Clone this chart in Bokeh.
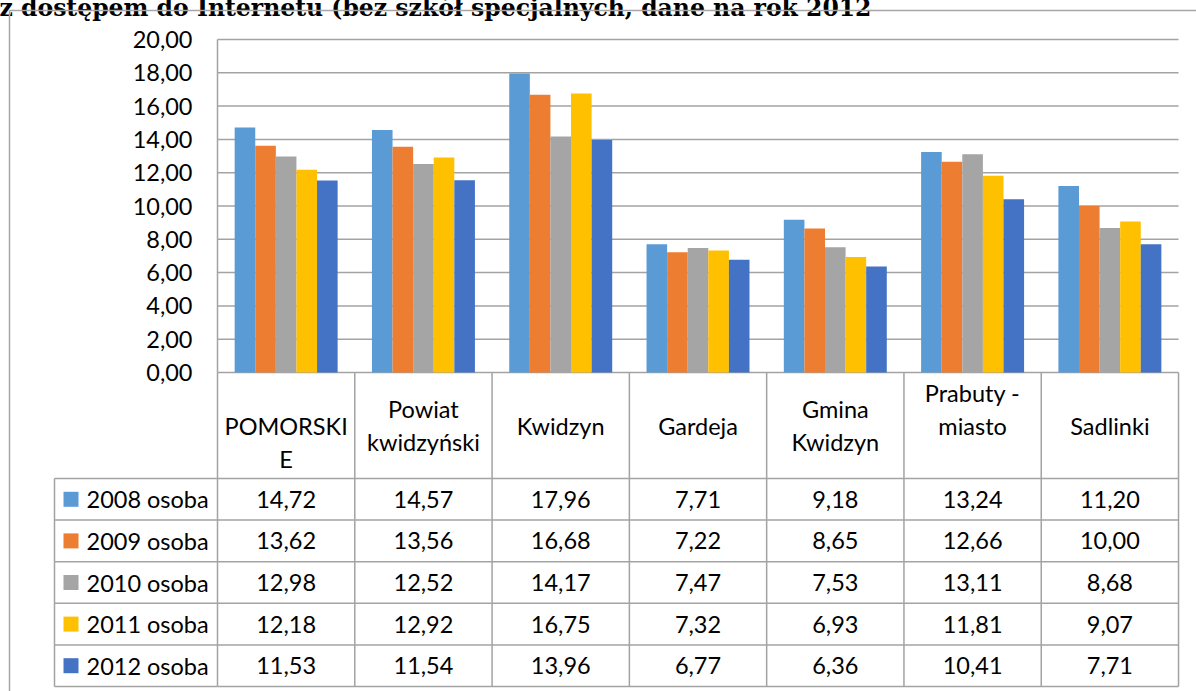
from bokeh.plotting import figure
from bokeh.models import Range1d, ColumnDataSource
from bokeh.transform import dodge
from bokeh.core.properties import value
from bokeh.embed import file_html
from bokeh.resources import INLINE

# ---------------- data ----------------
title_text = "z dostępem do Internetu (bez szkół specjalnych, dane na rok 2012"
categories = ["POMORSKIE", "Powiat kwidzyński", "Kwidzyn", "Gardeja",
              "Gmina Kwidzyn", "Prabuty - miasto", "Sadlinki"]
header_lines = [["POMORSKI", "E"], ["Powiat", "kwidzyński"], ["Kwidzyn"], ["Gardeja"],
                ["Gmina", "Kwidzyn"], ["Prabuty -", "miasto"], ["Sadlinki"]]
series_names = ["2008 osoba", "2009 osoba", "2010 osoba", "2011 osoba", "2012 osoba"]
v2008 = [14.72, 14.57, 17.96, 7.71, 9.18, 13.24, 11.20]
v2009 = [13.62, 13.56, 16.68, 7.22, 8.65, 12.66, 10.00]
v2010 = [12.98, 12.52, 14.17, 7.47, 7.53, 13.11, 8.68]
v2011 = [12.18, 12.92, 16.75, 7.32, 6.93, 11.81, 9.07]
v2012 = [11.53, 11.54, 13.96, 6.77, 6.36, 10.41, 7.71]
series_values = [v2008, v2009, v2010, v2011, v2012]
colors = ["#5B9BD5", "#ED7D31", "#A5A5A5", "#FFC000", "#4472C4"]
y_ticks = [0, 2, 4, 6, 8, 10, 12, 14, 16, 18, 20]
y_tick_labels = ["0,00", "2,00", "4,00", "6,00", "8,00", "10,00", "12,00",
                 "14,00", "16,00", "18,00", "20,00"]

# ---------------- layout (page pixels) ----------------
OFF = -8         # canvas origin on the page (figure pulled over the body margin)
W, H = 1204, 699
AX_L = 217.0     # x of first category boundary
CW = 137.29      # pixels per category
Y0 = 372.0       # y of value 0
YS = 16.65       # pixels per unit
HEAD_BOT = 478.0
ROW_H = 41.6
LEG_L = 54.0
SQ_X = 70.5
LEG_TX = 86.0
TICK_R = 192.0
BAR_W = 0.15
GRID = "#a3a3a3"
LW = 1.5
FONT = value("Lato")
FS = "23.5px"
TXT = "#000000"

ncat = len(categories)
nser = len(series_values)

p = figure(width=W, height=H,
           x_range=Range1d((OFF - AX_L) / CW, (OFF + W - AX_L) / CW),
           y_range=Range1d((Y0 - (OFF + H)) / YS, (Y0 - OFF) / YS),
           output_backend="svg", toolbar_location=None,
           x_axis_location=None, y_axis_location=None,
           min_border=0, outline_line_color=None)
p.extra_x_ranges = {"px": Range1d(OFF, OFF + W)}
p.extra_y_ranges = {"px": Range1d(OFF + H, OFF)}
p.grid.visible = False
p.styles = {"margin": "-8px"}

# title fragment (cut at top as in the source)
p.text(x=[-1], y=[7], text=[title_text], x_range_name="px", y_range_name="px",
       text_font=value("DejaVu Serif"), text_font_style="bold", text_font_size="23.5px",
       text_baseline="alphabetic", text_align="left", text_color=TXT)

# outer chart box (top + left edges visible)
p.segment(x0=[9, 9], y0=[10, 10], x1=[OFF + W + 5, 9], y1=[10, OFF + H + 5],
          x_range_name="px", y_range_name="px", line_color="#a6a6a6", line_width=1.5)

# gridlines
p.segment(x0=[0] * len(y_ticks), x1=[ncat] * len(y_ticks), y0=y_ticks, y1=y_ticks,
          line_color=GRID, line_width=LW)
# value axis line
p.segment(x0=[0], x1=[0], y0=[0], y1=[max(y_ticks)], line_color=GRID, line_width=LW)

# y tick labels
p.text(x=[TICK_R] * len(y_ticks), y=[Y0 - t * YS for t in y_ticks], text=y_tick_labels,
       x_range_name="px", y_range_name="px", text_font=FONT, text_font_size=FS,
       text_align="right", text_baseline="middle", text_color=TXT)

# bars
src = ColumnDataSource(dict(xc=[i + 0.5 for i in range(ncat)],
                            **{f"s{j}": series_values[j] for j in range(nser)}))
for j in range(nser):
    p.vbar(x=dodge("xc", (j - (nser - 1) / 2) * BAR_W), top=f"s{j}", bottom=0,
           width=BAR_W, source=src, fill_color=colors[j], line_color=None)

# ---------------- data table ----------------
tab_bot = HEAD_BOT + ROW_H * nser
p.segment(x0=list(range(ncat + 1)), x1=list(range(ncat + 1)),
          y0=[Y0] * (ncat + 1), y1=[tab_bot] * (ncat + 1),
          y_range_name="px", line_color=GRID, line_width=LW)
row_lines = [HEAD_BOT + ROW_H * k for k in range(nser + 1)]
p.segment(x0=[0] * len(row_lines), x1=[ncat] * len(row_lines), y0=row_lines, y1=row_lines,
          y_range_name="px", line_color=GRID, line_width=LW)
p.segment(x0=[LEG_L] * len(row_lines), x1=[AX_L] * len(row_lines), y0=row_lines, y1=row_lines,
          x_range_name="px", y_range_name="px", line_color=GRID, line_width=LW)
p.segment(x0=[LEG_L], x1=[LEG_L], y0=[HEAD_BOT], y1=[tab_bot],
          x_range_name="px", y_range_name="px", line_color=GRID, line_width=LW)

# category header text
hx, hy, ht = [], [], []
head_c = (Y0 + HEAD_BOT) / 2
for i, lines in enumerate(header_lines):
    nwords = len(categories[i].split())
    first = head_c - (nwords - 1) * 16.5
    for k, ln in enumerate(lines):
        hx.append(i + 0.5)
        hy.append(first + k * 33)
        ht.append(ln)
p.text(x=hx, y=hy, text=ht, y_range_name="px", text_font=FONT, text_font_size=FS,
       text_align="center", text_baseline="middle", text_color=TXT)

# rows: legend keys, names, values
row_c = [HEAD_BOT + ROW_H * (j + 0.5) for j in range(nser)]
p.rect(x=[SQ_X] * nser, y=row_c, width=15, height=15, width_units="screen",
       height_units="screen", fill_color=colors, line_color=None,
       x_range_name="px", y_range_name="px")
p.text(x=[LEG_TX] * nser, y=row_c, text=series_names, x_range_name="px", y_range_name="px",
       text_font=FONT, text_font_size=FS, text_align="left", text_baseline="middle",
       text_color=TXT)
cx, cy, ct = [], [], []
for j in range(nser):
    for i in range(ncat):
        cx.append(i + 0.5)
        cy.append(row_c[j])
        ct.append(f"{series_values[j][i]:.2f}".replace(".", ","))
p.text(x=cx, y=cy, text=ct, y_range_name="px", text_font=FONT, text_font_size=FS,
       text_align="center", text_baseline="middle", text_color=TXT)

open("out.html", "w").write(file_html(p, INLINE))
